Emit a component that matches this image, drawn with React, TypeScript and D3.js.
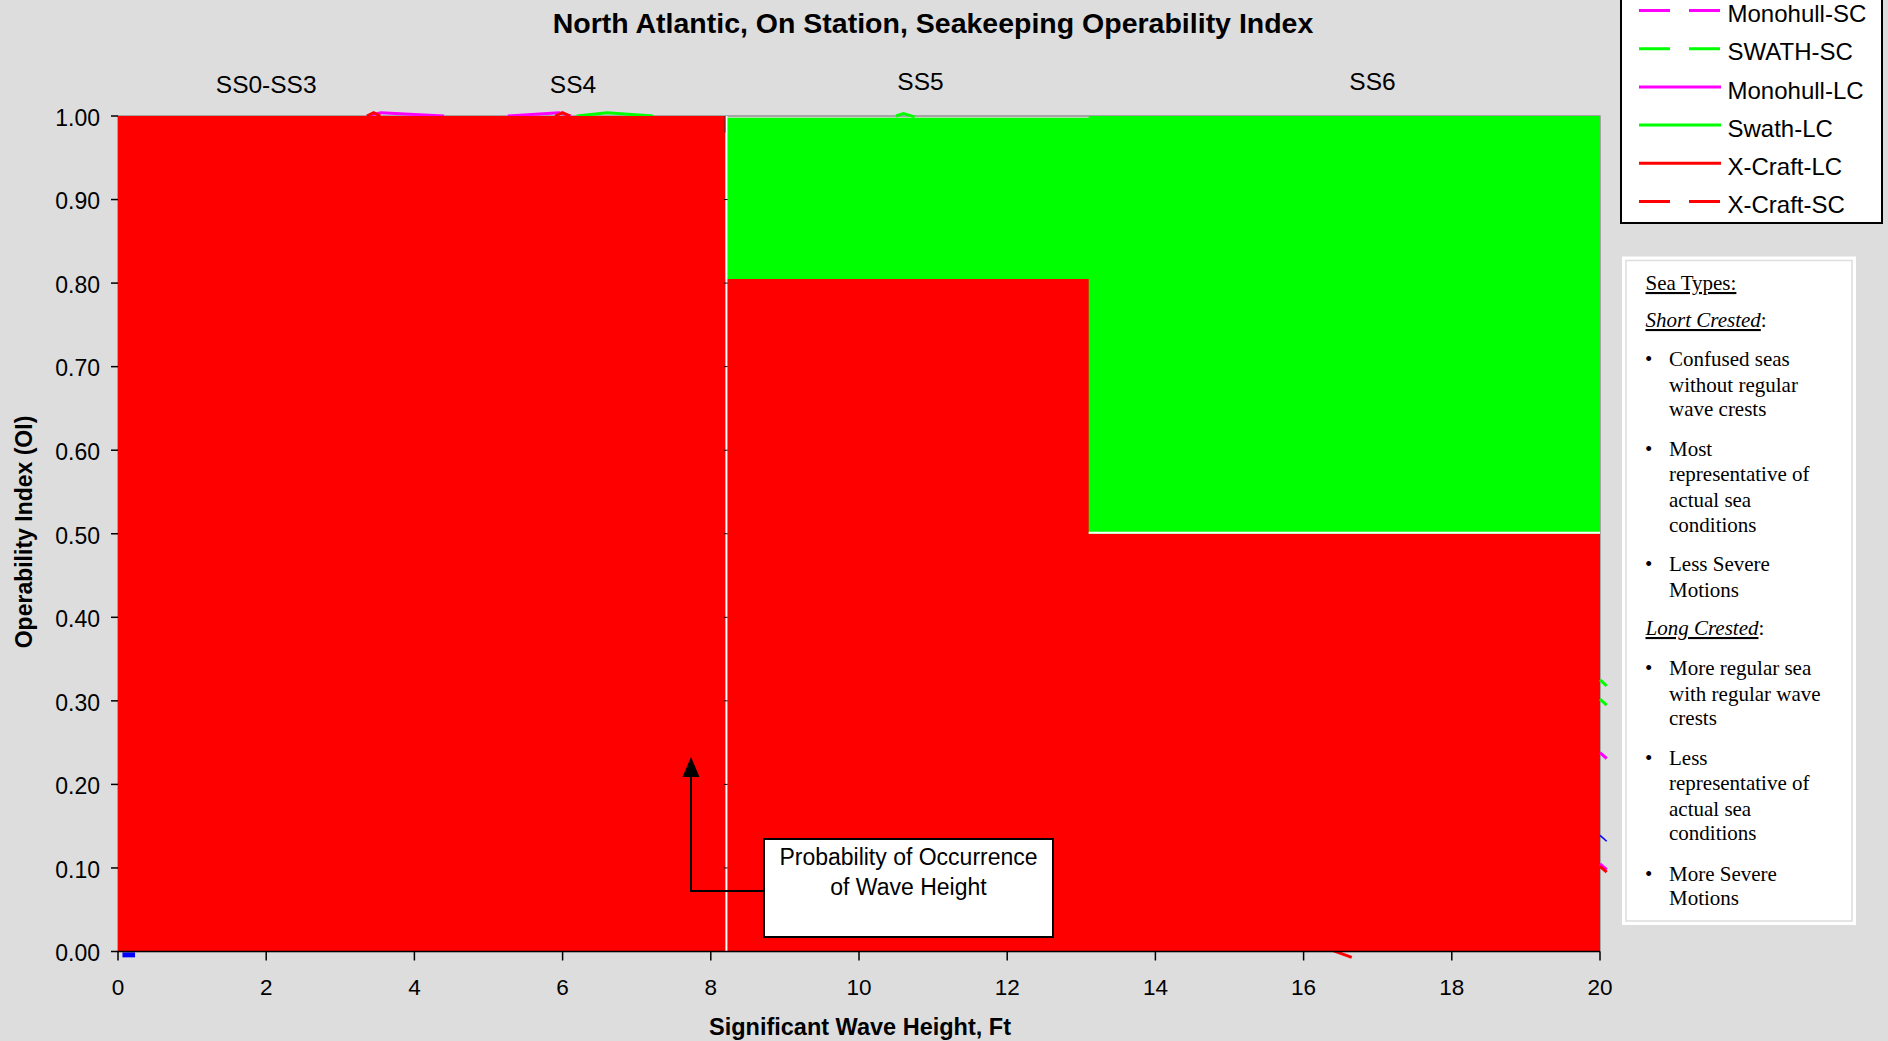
import React from "react";
import * as d3 from "d3";

// ---- data ----
const stepEdges = [0, 8.2, 13.1, 20];
const xCraftLC = [1.0, 0.805, 0.5];
const swathLC = [null, 0.998, 1.0];
const xTicks = [0, 2, 4, 6, 8, 10, 12, 14, 16, 18, 20];
const yTicks = [0, 0.1, 0.2, 0.3, 0.4, 0.5, 0.6, 0.7, 0.8, 0.9, 1.0];
const seaStates = ["SS0-SS3", "SS4", "SS5", "SS6"];
const seaStateX = [2.0, 6.14, 10.83, 16.93];
const seaStateBaseline = [93, 93, 90, 90];
const legendNames = ["Monohull-SC", "SWATH-SC", "Monohull-LC", "Swath-LC", "X-Craft-LC", "X-Craft-SC"];
const legendColors = ["#FF00FF", "#00FF00", "#FF00FF", "#00FF00", "#FF0000", "#FF0000"];
const legendDashed = [true, true, false, false, false, true];
// line-series ends that stick out past x = 20
const stubColors = ["#00FF00", "#00FF00", "#FF00FF", "#0000FF", "#FF00FF", "#FF0000"];
const stubValues = [0.325, 0.302, 0.238, 0.139, 0.105, 0.102];
// line-series bits that peek over the top of the areas
const peekSeries = [
  { color: "#FF00FF", pts: [[3.36, 1.0], [3.55, 1.004], [4.4, 1.0]] },
  { color: "#FF0000", pts: [[3.36, 1.0], [3.45, 1.004], [3.54, 1.0]] },
  { color: "#FF00FF", pts: [[5.26, 1.0], [5.95, 1.004], [6.11, 1.0]] },
  { color: "#FF0000", pts: [[5.9, 1.0], [6.0, 1.004], [6.1, 1.0]] },
  { color: "#00FF00", pts: [[6.19, 1.0], [6.6, 1.004], [7.22, 1.0]] },
  { color: "#00FF00", pts: [[10.5, 1.0], [10.6, 1.003], [10.75, 0.999]] },
];

const seaTypesLines = [
  { t: "Sea Types:", y: 290, kind: "head" },
  { t: "Short Crested", y: 327, kind: "sub" },
  { t: "Confused seas", y: 366, kind: "bullet" },
  { t: "without regular", y: 392, kind: "text" },
  { t: "wave crests", y: 416, kind: "text" },
  { t: "Most", y: 455.5, kind: "bullet" },
  { t: "representative of", y: 481, kind: "text" },
  { t: "actual sea", y: 506.5, kind: "text" },
  { t: "conditions", y: 532, kind: "text" },
  { t: "Less Severe", y: 571, kind: "bullet" },
  { t: "Motions", y: 597, kind: "text" },
  { t: "Long Crested", y: 635, kind: "sub" },
  { t: "More regular sea", y: 675, kind: "bullet" },
  { t: "with regular wave", y: 700.5, kind: "text" },
  { t: "crests", y: 725, kind: "text" },
  { t: "Less", y: 764.5, kind: "bullet" },
  { t: "representative of", y: 790, kind: "text" },
  { t: "actual sea", y: 816, kind: "text" },
  { t: "conditions", y: 840, kind: "text" },
  { t: "More Severe", y: 880.5, kind: "bullet" },
  { t: "Motions", y: 905, kind: "text" },
];

const SANS = "'Liberation Sans', Arial, Helvetica, sans-serif";
const SERIF = "'Liberation Serif', 'Times New Roman', Times, serif";

export default function App() {
  const W = 1888, H = 1041;
  const x = d3.scaleLinear().domain([0, 20]).range([118, 1600]);
  const y = d3.scaleLinear().domain([0, 1]).range([951.5, 116]);

  const stepArea = (vals: (number | null)[]) => {
    const pts: [number, number][] = [];
    vals.forEach((v, i) => {
      if (v != null) {
        pts.push([stepEdges[i], v]);
        pts.push([stepEdges[i + 1], v]);
      }
    });
    return d3
      .area<[number, number]>()
      .x((d) => x(d[0]))
      .y0(y(0))
      .y1((d) => y(d[1]))(pts) as string;
  };
  const line = d3
    .line<number[]>()
    .x((d) => x(d[0]))
    .y((d) => y(d[1]));

  const legendX0 = 1639, legendX1 = 1721, legendY0 = 13.5, legendStep = 38.2;

  return (
    <svg
      width={W}
      height={H}
      style={{ position: "absolute", left: 0, top: 0, display: "block" }}
      fontFamily={SANS}
    >
      <rect x={0} y={0} width={W} height={H} fill="#DDDDDD" />

      {/* title */}
      <text x={933} y={33} textAnchor="middle" fontSize={28.5} fontWeight="bold" fill="#000">
        North Atlantic, On Station, Seakeeping Operability Index
      </text>

      {/* sea state labels */}
      {seaStates.map((s, i) => (
        <text key={s} x={x(seaStateX[i])} y={seaStateBaseline[i]} textAnchor="middle" fontSize={24.5} fill="#000">
          {s}
        </text>
      ))}

      {/* plot border */}
      <rect x={x(0)} y={y(1)} width={x(20) - x(0)} height={y(0) - y(1)} fill="none" stroke="#808080" strokeWidth={1.2} />

      {/* peeking line series */}
      {peekSeries.map((p, i) => (
        <path key={i} d={line(p.pts) as string} fill="none" stroke={p.color} strokeWidth={3} />
      ))}

      {/* areas */}
      <path d={stepArea(swathLC)} fill="#00FF00" />
      <path d={stepArea(xCraftLC)} fill="#FF0000" />

      {/* white separators */}
      <line x1={x(8.2) + 0.8} x2={x(8.2) + 0.8} y1={y(0)} y2={y(1)} stroke="#FFFFFF" strokeWidth={2} />
      <line x1={x(8.2) - 0.6} x2={x(8.2) - 0.6} y1={y(1)} y2={y(0.98)} stroke="#333" strokeWidth={1} />
      {yTicks.slice(1, 10).map((v) => (
        <line key={v} x1={x(8.2) - 1.5} x2={x(8.2) + 2} y1={y(v)} y2={y(v)} stroke="#000" strokeWidth={1} />
      ))}
      <line x1={x(13.1)} x2={x(20)} y1={y(0.5) - 1} y2={y(0.5) - 1} stroke="#FFFFFF" strokeWidth={2} />

      {/* stubs beyond x=20 */}
      {stubValues.map((v, i) => (
        <path
          key={i}
          d={line([[20, v], [20.09, v - 0.007]]) as string}
          stroke={stubColors[i]}
          strokeWidth={i === 3 ? 1.5 : 3}
          fill="none"
        />
      ))}
      <path d={line([[16.37, 0.002], [16.65, -0.007]]) as string} stroke="#FF0000" strokeWidth={3} fill="none" />
      <path d={line([[0.06, -0.004], [0.23, -0.004]]) as string} stroke="#0000FF" strokeWidth={5} fill="none" />

      {/* axes */}
      <line x1={x(0)} x2={x(20)} y1={y(0)} y2={y(0)} stroke="#000" strokeWidth={1.5} />
      {xTicks.map((t) => (
        <g key={t}>
          <line x1={x(t)} x2={x(t)} y1={y(0)} y2={y(0) + 9} stroke="#000" strokeWidth={1.5} />
          <text x={x(t)} y={995} textAnchor="middle" fontSize={22.5} fill="#000">
            {t}
          </text>
        </g>
      ))}
      {yTicks.map((t) => (
        <g key={t}>
          <line x1={x(0) - 7} x2={x(0)} y1={y(t)} y2={y(t)} stroke="#000" strokeWidth={1.5} />
          <text x={100} y={y(t) + 1.5} dy="0.36em" textAnchor="end" fontSize={23} fill="#000">
            {t.toFixed(2)}
          </text>
        </g>
      ))}

      <text x={860} y={1035} textAnchor="middle" fontSize={23.5} fontWeight="bold" fill="#000">
        Significant Wave Height, Ft
      </text>
      <text
        transform="translate(32,532) rotate(-90)"
        textAnchor="middle"
        fontSize={23}
        fontWeight="bold"
        fill="#000"
      >
        Operability Index (OI)
      </text>

      {/* annotation */}
      <polyline points="764,891 691,891 691,775" fill="none" stroke="#000" strokeWidth={2} />
      <polygon points="691,757 682.5,777 699.5,777" fill="#000" />
      <rect x={764} y={839} width={289} height={98} fill="#FFFFFF" stroke="#000" strokeWidth={2} />
      <text x={908.5} y={865} textAnchor="middle" fontSize={23} fill="#000">
        Probability of Occurrence
      </text>
      <text x={908.5} y={895} textAnchor="middle" fontSize={23} fill="#000">
        of Wave Height
      </text>

      {/* legend */}
      <rect x={1621} y={-20} width={261} height={243} fill="#FFFFFF" stroke="#000" strokeWidth={2} />
      {legendNames.map((n, i) => {
        const ly = legendY0 + i * legendStep;
        return (
          <g key={n}>
            <line
              x1={legendX0}
              x2={legendX1}
              y1={ly - 3}
              y2={ly - 3}
              stroke={legendColors[i]}
              strokeWidth={3}
              strokeDasharray={legendDashed[i] ? "31 19" : undefined}
            />
            <text x={1727.5} y={ly} dy="0.36em" fontSize={24} fill="#000">
              {n}
            </text>
          </g>
        );
      })}

      {/* sea types box */}
      <rect x={1622} y={256.5} width={234} height={668.5} fill="#FFFFFF" />
      <rect x={1626} y={260.5} width={226} height={660.5} fill="none" stroke="#DDDDDD" strokeWidth={1.5} />
      <g fontFamily={SERIF} fontSize={21} fill="#000">
        {seaTypesLines.map((l, i) => {
          if (l.kind === "head")
            return (
              <text key={i} x={1645.5} y={l.y} textDecoration="underline">
                {l.t}
              </text>
            );
          if (l.kind === "sub")
            return (
              <text key={i} x={1645.5} y={l.y}>
                <tspan fontStyle="italic" textDecoration="underline">
                  {l.t}
                </tspan>
                <tspan>:</tspan>
              </text>
            );
          return (
            <g key={i}>
              {l.kind === "bullet" && (
                <text x={1645} y={l.y}>
                  •
                </text>
              )}
              <text x={1669} y={l.y}>
                {l.t}
              </text>
            </g>
          );
        })}
      </g>
    </svg>
  );
}
